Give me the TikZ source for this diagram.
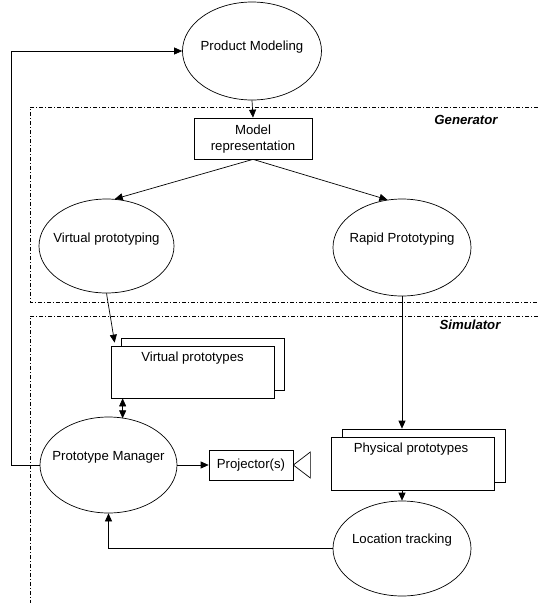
\documentclass[tikz,border=0pt]{standalone}
\usepackage{fontspec}
\setmainfont{Liberation Sans}
\usetikzlibrary{arrows.meta}
\usetikzlibrary{shapes.geometric}
\usetikzlibrary{positioning}

\begin{document}
\begin{tikzpicture}[x=1pt,y=-1pt,line width=0.7pt,
  every node/.style={font=\fontsize{13.2}{15.5}\selectfont},
  >={Triangle[length=8pt,width=7pt]},
  oval/.style={draw,ellipse,inner sep=0pt},
  box/.style={draw,rectangle,fill=white,inner sep=0pt},
  txt/.style={inner sep=0pt,align=center},
  area/.style={dash pattern=on 4pt off 2pt on 1pt off 2pt},
  tag/.style={inner sep=0pt,font=\fontsize{13.2}{15.5}\selectfont\bfseries\itshape}]
  \useasboundingbox (0,0) rectangle (538,603);

  \draw[area] (538,107)--(30,107)--(30,302)--(538,302);
  \draw[area] (538,316)--(30,316)--(30,603);
  \node[tag] (gen) at (466,120) {Generator};
  \node[tag] (sim) at (470,325) {Simulator};

  \node[oval,minimum width=139,minimum height=98] (pmod) at (252,51) {};
  \node[txt] (pmodt) at (252,47) {Product Modeling};
  \node[box,minimum width=118,minimum height=41] (mrep) at (253,138.5) {};
  \node[txt] (mrept) at (253,139) {Model\\representation};
  \node[oval,minimum width=135,minimum height=94] (vpg) at (106.5,246) {};
  \node[txt] (vpgt) at (106.5,239) {Virtual prototyping};
  \node[oval,minimum width=138,minimum height=97] (rpg) at (402,247.5) {};
  \node[txt] (rpgt) at (402,239) {Rapid Prototyping};

  \node[box,minimum width=163,minimum height=52] (vpsb) at (202.5,364) {};
  \node[box,minimum width=163,minimum height=52] (vps) at (192.5,372) {};
  \node[txt] (vpst) at (192.5,358) {Virtual prototypes};
  \node[oval,minimum width=137,minimum height=96] (pmgr) at (108.5,465) {};
  \node[txt] (pmgrt) at (108.5,457) {Prototype Manager};
  \node[box,minimum width=84,minimum height=30] (proj) at (251,465) {};
  \node[txt] (projt) at (251,465) {Projector(s)};
  \node[box,minimum width=163,minimum height=53] (ppsb) at (423.5,455.5) {};
  \node[box,minimum width=163,minimum height=53] (pps) at (412.5,463.5) {};
  \node[txt] (ppst) at (411,449) {Physical prototypes};
  \node[oval,minimum width=138,minimum height=95] (loc) at (402,548.5) {};
  \node[txt] (loct) at (402,540) {Location tracking};

  \draw[->] (pmod.south)--(mrep.north);
  \draw[->] (mrep.south)--(vpg.80);
  \draw[->] (mrep.south)--(rpg.107);
  \draw[->] (vpg.south)--([xshift=4pt,yshift=3pt]vps.north west);
  \draw[<->] ([xshift=12pt]vps.south west)--++(0,20);
  \draw[->] (pmgr.east)--(proj.west);
  \draw (proj.east)--++(17,-13)--++(0,26)--cycle;
  \draw[->] (rpg.south)--(rpg.south |- ppsb.north);
  \draw[->] (loc.north |- pps.south)--(loc.north);
  \draw[->] (loc.west)-|(pmgr.south);
  \draw[->] (pmgr.west)--++(-28,0)|-(pmod.west);
\end{tikzpicture}
\end{document}
